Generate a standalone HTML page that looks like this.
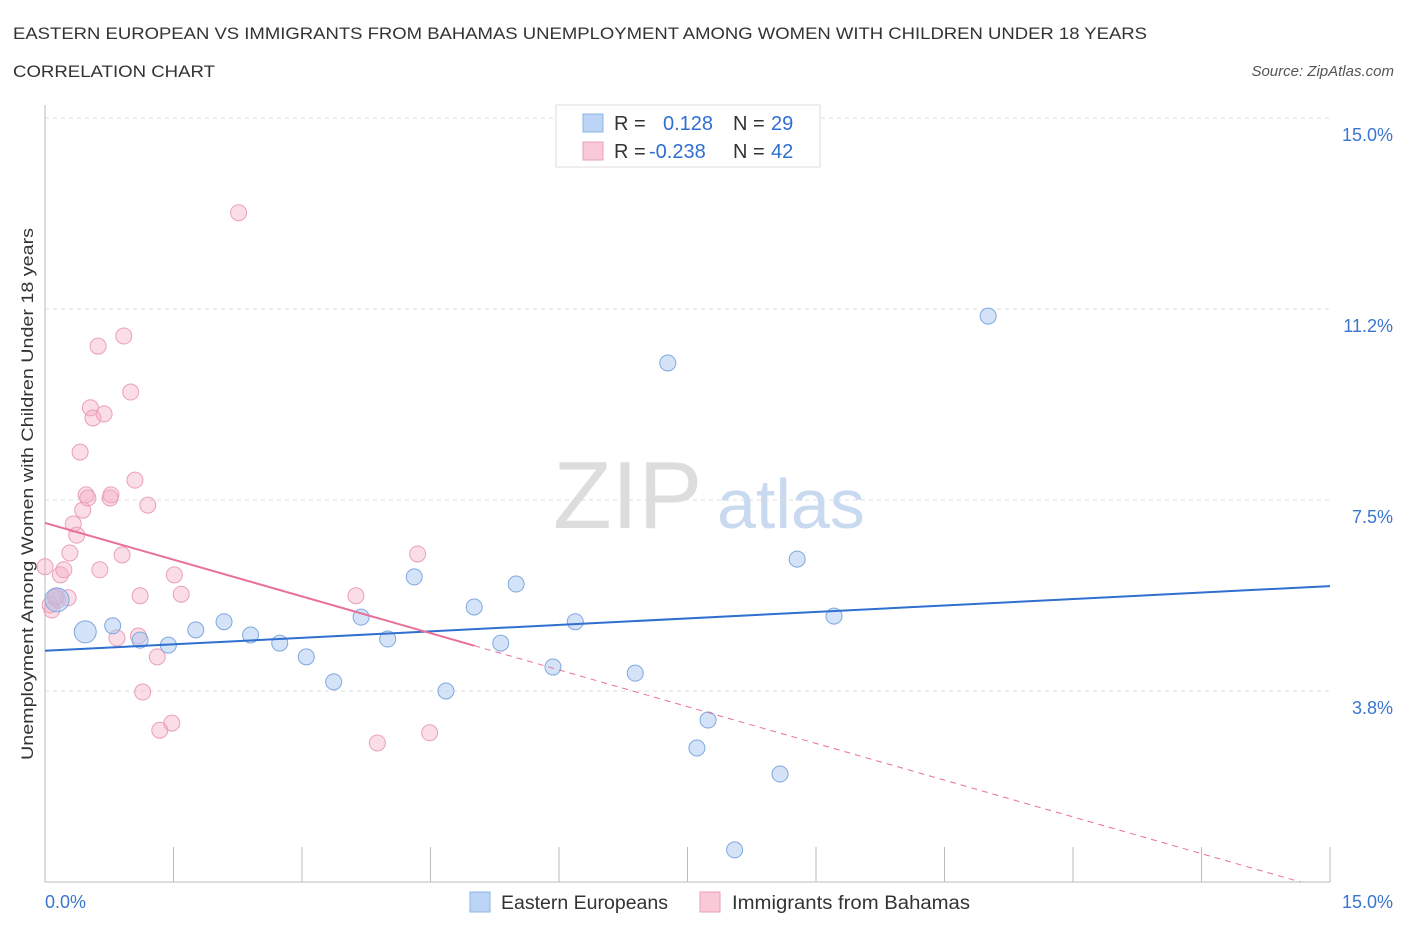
<!DOCTYPE html>
<html><head><meta charset="utf-8">
<style>
body{margin:0;background:#fff;font-family:"Liberation Sans",sans-serif;}
svg text{font-family:"Liberation Sans",sans-serif;}
</style></head>
<body>
<svg id="chart" width="1406" height="930" xmlns="http://www.w3.org/2000/svg">
<text x="13" y="39" font-size="17" fill="#333" textLength="1134" lengthAdjust="spacingAndGlyphs">EASTERN EUROPEAN VS IMMIGRANTS FROM BAHAMAS UNEMPLOYMENT AMONG WOMEN WITH CHILDREN UNDER 18 YEARS</text>
<text x="13" y="77" font-size="17" fill="#333" textLength="202" lengthAdjust="spacingAndGlyphs">CORRELATION CHART</text>
<text x="1394" y="76" font-size="15" fill="#555" font-style="italic" text-anchor="end">Source: ZipAtlas.com</text>
<text x="553" y="528" font-size="96" fill="#ddd" font-family="Liberation Serif">ZIP</text>
<text x="717" y="528" font-size="70" fill="#c9daf0">atlas</text>
<text transform="translate(33,494) rotate(-90)" font-size="17" fill="#333" text-anchor="middle" textLength="532" lengthAdjust="spacingAndGlyphs">Unemployment Among Women with Children Under 18 years</text>
<g id="grid"></g>
<g id="marks"></g>
<rect x="556" y="105" width="264" height="62" fill="#fff" stroke="#ddd"/>
<rect x="583" y="114" width="20" height="18" fill="#bcd4f5" stroke="#8db4e6"/>
<rect x="583" y="142" width="20" height="18" fill="#f9c9d8" stroke="#eaa0b8"/>
<text x="614" y="130" font-size="20" fill="#333">R =</text>
<text x="663" y="130" font-size="20" fill="#2f6fd0">0.128</text>
<text x="733" y="130" font-size="20" fill="#333">N =</text>
<text x="771" y="130" font-size="20" fill="#2f6fd0">29</text>
<text x="614" y="158" font-size="20" fill="#333">R =</text>
<text x="649" y="158" font-size="20" fill="#2f6fd0">-0.238</text>
<text x="733" y="158" font-size="20" fill="#333">N =</text>
<text x="771" y="158" font-size="20" fill="#2f6fd0">42</text>
<rect x="470" y="892" width="20" height="20" fill="#bcd4f5" stroke="#8db4e6"/>
<text x="501" y="909" font-size="19" fill="#333" textLength="167" lengthAdjust="spacingAndGlyphs">Eastern Europeans</text>
<rect x="700" y="892" width="20" height="20" fill="#f9c9d8" stroke="#eaa0b8"/>
<text x="732" y="909" font-size="19" fill="#333" textLength="238" lengthAdjust="spacingAndGlyphs">Immigrants from Bahamas</text>
</svg>
<script>
const yTicks=[3.75,7.5,11.25,15];
const yTickLabels=["3.8%","7.5%","11.2%","15.0%"];
const blueX=[0.14,0.47,0.79,1.11,1.44,1.76,2.09,2.40,2.74,3.05,3.37,3.69,4.00,4.31,4.68,5.01,5.32,5.50,5.93,6.19,6.89,7.27,7.61,7.74,8.05,8.58,8.78,9.21,11.01];
const blueY=[5.54,4.91,5.03,4.75,4.65,4.95,5.11,4.85,4.69,4.42,3.93,5.20,4.77,5.99,3.75,5.40,4.69,5.85,4.22,5.11,4.10,10.19,2.63,3.18,0.63,2.12,6.34,5.22,11.11];
const blueR=[12,11,8,8,8,8,8,8,8,8,8,8,8,8,8,8,8,8,8,8,8,8,8,8,8,8,8,8,8];
const pinkX=[0,0.08,0.12,0.18,0.22,0.15,0.27,0.29,0.33,0.37,0.41,0.44,0.48,0.53,0.56,0.50,0.62,0.69,0.76,0.77,0.84,0.90,0.92,0.64,1.00,1.05,1.09,1.11,1.14,1.20,1.31,1.34,1.48,1.51,1.59,2.26,3.63,3.88,4.35,4.49,0.06,0.13];
const pinkY=[6.19,5.34,5.58,6.03,6.13,5.54,5.58,6.46,7.03,6.81,8.44,7.30,7.60,9.31,9.11,7.54,10.52,9.19,7.54,7.60,4.79,6.42,10.72,6.13,9.62,7.89,4.83,5.62,3.73,7.40,4.42,2.98,3.12,6.03,5.65,13.14,5.62,2.73,6.44,2.93,5.44,5.60];
const blueTrend=[4.54,5.81];
const pinkTrend=[7.05,-0.481];
const pinkSolidEnd=5.01;

const NS="http://www.w3.org/2000/svg";
const X=v=>45+v*(1285/15);
const Y=v=>882-v*(764/15);
function mk(tag,attrs,parent){const e=document.createElementNS(NS,tag);for(const k in attrs)e.setAttribute(k,attrs[k]);parent.appendChild(e);return e;}
const grid=document.getElementById('grid'),marks=document.getElementById('marks');
yTicks.forEach((t,i)=>{
 const l=mk('line',{x1:45,x2:1330,y1:Y(t),y2:Y(t),stroke:'#ddd','stroke-dasharray':'4,4'},grid);
 
 
 const tx=mk('text',{x:1393,y:Y(t)+23,'font-size':18,fill:'#3a75d0','text-anchor':'end'},grid);
 tx.textContent=yTickLabels[i];
 
 
});
const ax=mk('line',{x1:45,x2:1330,y1:882,y2:882,stroke:'#bbb'},grid);


const ay=mk('line',{x1:45,x2:45,y1:105,y2:882,stroke:'#bbb'},grid);


for(let i=0;i<=10;i++){
 const t=mk('line',{x1:X(i*1.5),x2:X(i*1.5),y1:847,y2:882,stroke:'#bbb'},grid);
 
 
}
[["0.0%",45,"start"],["15.0%",1393,"end"]].forEach(a=>{
 const t=mk('text',{x:a[1],y:908,'font-size':18,fill:'#3a75d0','text-anchor':a[2]},grid);
 t.textContent=a[0];
 
 
});
pinkX.forEach((x,i)=>{
 const c=mk('circle',{cx:X(x),cy:Y(pinkY[i]),r:8,fill:'rgba(244,170,195,0.4)',stroke:'#eaa0b8','stroke-width':1},marks);
 
 
});
blueX.forEach((x,i)=>{
 const c=mk('circle',{cx:X(x),cy:Y(blueY[i]),r:blueR[i],fill:'rgba(170,200,240,0.5)',stroke:'#7fa8e0','stroke-width':1},marks);
 
 
});
const bl=mk('line',{x1:X(0),y1:Y(blueTrend[0]),x2:X(15),y2:Y(blueTrend[1]),stroke:'#2f6fd0','stroke-width':2},marks);


const pf=x=>pinkTrend[0]+pinkTrend[1]*x;
const xEnd=-pinkTrend[0]/pinkTrend[1];
const pd=mk('line',{x1:X(pinkSolidEnd),y1:Y(pf(pinkSolidEnd)),x2:X(xEnd),y2:Y(0),stroke:'#e8709a','stroke-width':1,'stroke-dasharray':'6,5'},marks);


const ps=mk('line',{x1:X(0),y1:Y(pf(0)),x2:X(pinkSolidEnd),y2:Y(pf(pinkSolidEnd)),stroke:'#e8709a','stroke-width':2},marks);


</script>
</body></html>
